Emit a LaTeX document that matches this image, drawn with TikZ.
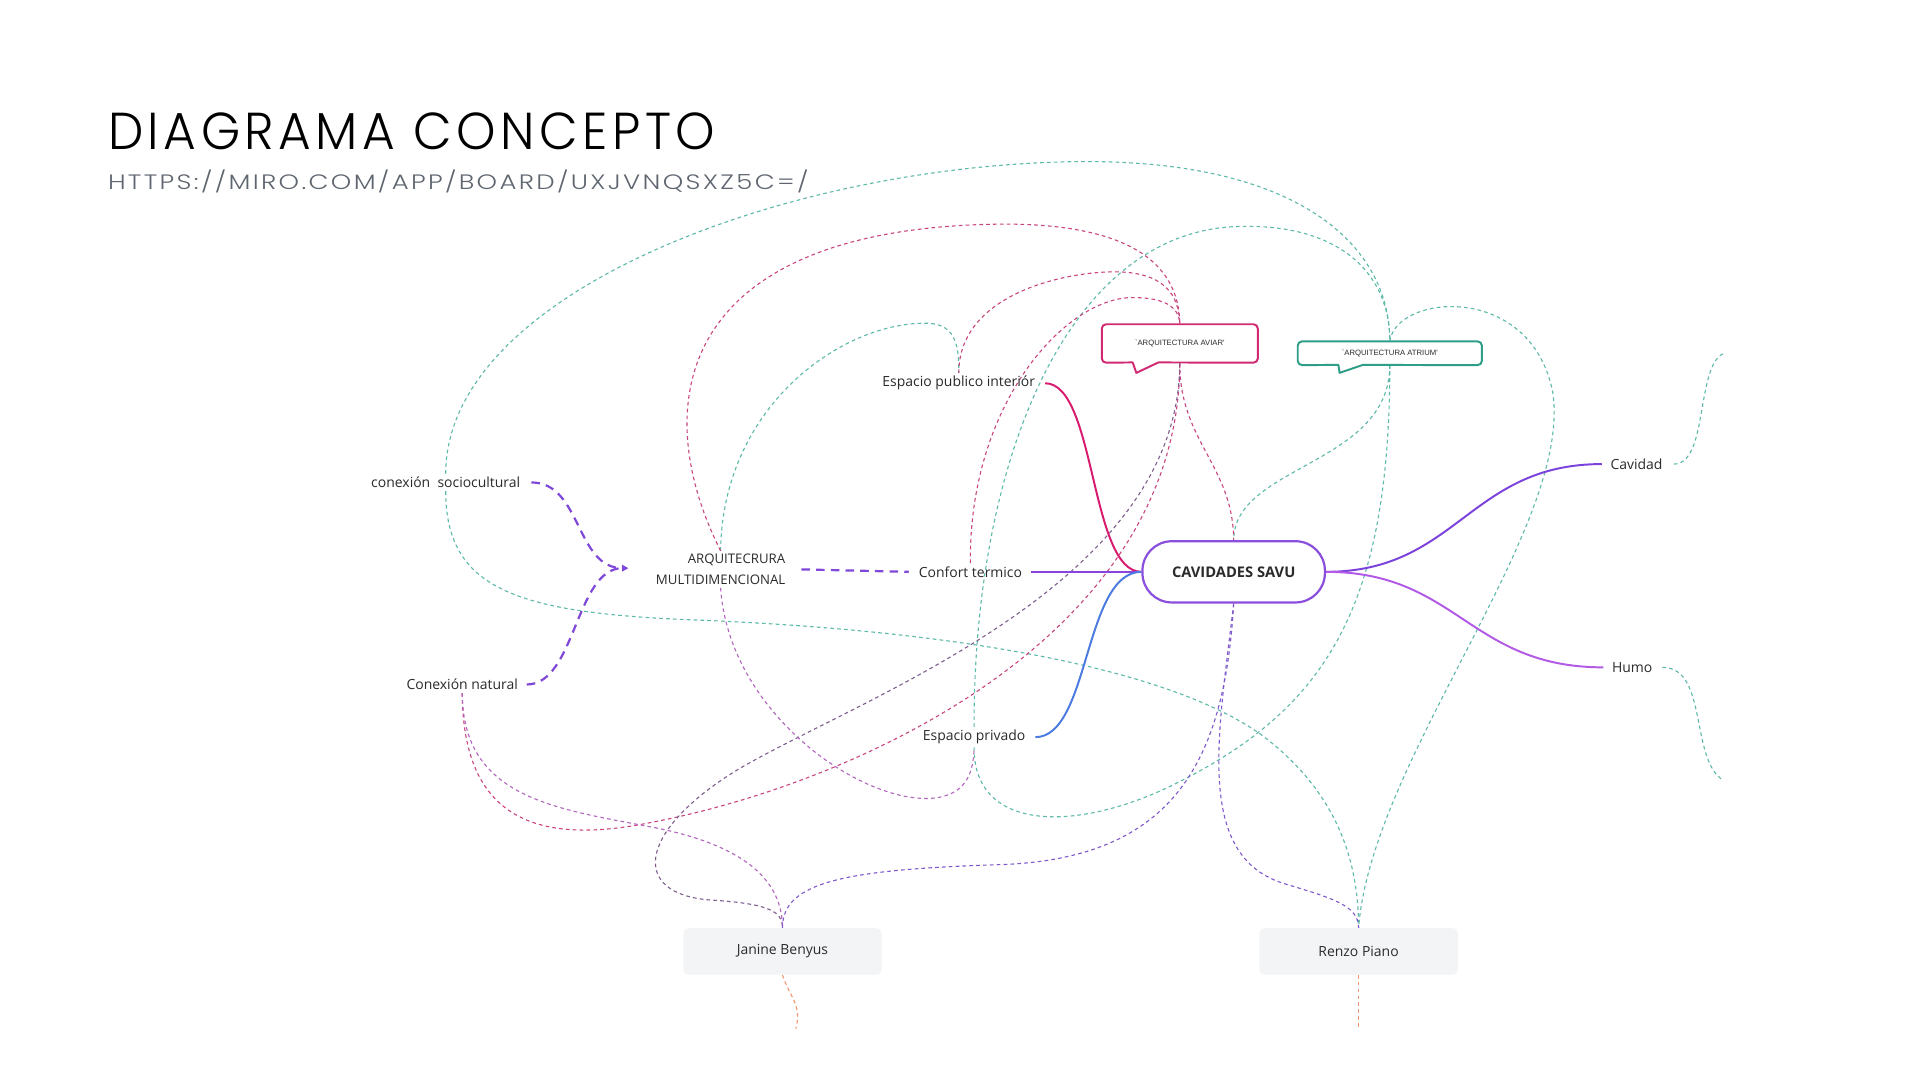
\documentclass[tikz,border=0pt]{standalone}
\usepackage{fontspec}
\setmainfont{Open Sans}
\newfontfamily\titlefont[UprightFont={* Light},LetterSpace=9]{Poppins}
\newfontfamily\urlfont[UprightFont={* Light},LetterSpace=9]{Poppins}
\newfontfamily\bubblefont{Liberation Sans}
\usetikzlibrary{arrows.meta}
\definecolor{tealc}{HTML}{5DB9A8}
\definecolor{pinkc}{HTML}{C9457F}
\definecolor{mauvec}{HTML}{7E5E8E}
\definecolor{ppinkc}{HTML}{B264BE}
\definecolor{violc}{HTML}{7E58CC}
\definecolor{orangec}{HTML}{EE9470}
\definecolor{labelc}{HTML}{2B2B2B}
\definecolor{urlc}{HTML}{5F6670}
\definecolor{boxc}{HTML}{8A4FDC}
\definecolor{avic}{HTML}{D12A73}
\definecolor{atrc}{HTML}{2E9E86}
\definecolor{greyfill}{HTML}{F3F4F6}
\definecolor{mmpink}{HTML}{D81B6E}
\definecolor{mmblue}{HTML}{4C7BE0}
\definecolor{mmviol}{HTML}{8A44DE}
\definecolor{mmcav}{HTML}{7B42DC}
\definecolor{mmhumo}{HTML}{B25AE6}
\definecolor{arqdash}{HTML}{8048D8}
\pgfdeclarelayer{back}
\pgfdeclarelayer{bg}
\pgfdeclarelayer{mid}
\pgfsetlayers{back,bg,mid,main}
\begin{document}
\begin{tikzpicture}[x=1pt,y=-1pt,
  lbl/.style={font=\fontsize{11.4}{13.7}\selectfont, text=labelc, inner xsep=0pt, inner ysep=2.5pt},
  thinline/.style={line width=0.9pt, dash pattern=on 3pt off 2.6pt},
  tline/.style={thinline, draw=tealc},
  pline/.style={thinline, draw=pinkc},
  mline/.style={thinline, draw=mauvec},
  qline/.style={thinline, draw=ppinkc},
  vline/.style={thinline, draw=violc},
  oline/.style={thinline, draw=orangec},
  thickdash/.style={draw=arqdash, line width=1.8pt, dash pattern=on 7pt off 5pt},
  mmline/.style={line width=1.6pt},
  pbox/.style={lbl, fill=greyfill, rounded corners=4pt, minimum width=162pt, minimum height=38pt, inner xsep=4pt},
  bubbletext/.style={font=\fontsize{6.3}{7}\selectfont\bubblefont, text=labelc, inner sep=0pt},
  bubble/.style={fill=white, line width=1.6pt, line join=round}
]
\useasboundingbox (0,0) rectangle (1568,882);
\begin{pgfonlayer}{back}
\fill[white] (0,0) rectangle (1568,882);
\end{pgfonlayer}

% title
\node[anchor=base west, inner sep=0pt] (title) at (88,122)
  {\resizebox{496pt}{30pt}{\titlefont DIAGRAMA CONCEPTO}};
\node[anchor=base west, inner sep=0pt, text=urlc] (url) at (88,155)
  {\resizebox{572pt}{16pt}{\urlfont HTTPS://MIRO.COM/APP/BOARD/UXJVNQSXZ5C=/}};

% nodes
\node[lbl] (epi) at (783,313) {Espacio publico interiór};
\node[lbl] (cft) at (792.5,467) {Confort termico};
\node[lbl] (esp) at (795.5,602) {Espacio privado};
\node[lbl] (socio) at (364,394) {conexión\ \ sociocultural};
\node[lbl] (nat) at (377.5,559) {Conexión natural};
\node[lbl, font=\fontsize{10.8}{17}\selectfont, align=right] (arq) at (588.5,465) {ARQUITECRURA\\MULTIDIMENCIONAL};
\node[lbl] (cavd) at (1336.5,379) {Cavidad};
\node[lbl] (humo) at (1333,545) {Humo};
\node[draw=boxc, line width=1.8pt, fill=white, rounded corners=24pt, minimum width=149pt, minimum height=50pt,
      font=\fontsize{12}{14}\selectfont\bfseries, text=labelc] (cav) at (1007.5,467) {CAVIDADES SAVU};
\node[pbox] (janine) at (639,777) {Janine Benyus};
\node[pbox] (renzo) at (1109.5,777) {Renzo Piano};
\node[bubbletext, minimum width=127pt, minimum height=31pt] (aviar) at (963.5,280.5) {`ARQUITECTURA AVIAR'};
\node[bubbletext, minimum width=150pt, minimum height=19pt] (atrium) at (1135,288.5) {`ARQUITECTURA ATRIUM'};

\coordinate (cavend) at (1407,289);
\coordinate (humoend) at (1407,637);
\coordinate (jend) at (650,840);
\coordinate (rend) at (1109.5,840);
\coordinate (arqin) at (513,464);

% speech bubbles
\begin{pgfonlayer}{mid}
\fill[white] (aviar.south west) rectangle (aviar.north east);
\fill[white] (atrium.south west) rectangle (atrium.north east);
\draw[bubble, draw=avic] (946,296) -- (928,304.5) -- (925,296) [rounded corners=3.5pt] -- (aviar.south west) -- (aviar.north west) -- (aviar.north east) -- (aviar.south east) -- (946,296);
\draw[bubble, draw=atrc] (1113,298) -- (1094,304.5) -- (1093,298) [rounded corners=3.5pt] -- (atrium.south west) -- (atrium.north west) -- (atrium.north east) -- (atrium.south east) -- (1113,298);
\end{pgfonlayer}

\begin{pgfonlayer}{bg}
% teal connectors
\draw[tline] (socio.north) .. controls (364,240) and (640,135) .. (880,132) .. controls (1060,130) and (1135,200) .. (atrium.north);
\draw[tline] (socio.south) .. controls (364,480) and (420,500) .. (560,506) .. controls (800,515) and (960,550) .. (1030,600) .. controls (1090,645) and (1109.5,700) .. (renzo.north);
\draw[tline] (esp.south) .. controls (795,680) and (880,680) .. (960,640) .. controls (1080,580) and (1135,500) .. (atrium.south);
\draw[tline] (esp.north) .. controls (795,380) and (870,190) .. (1010,185) .. controls (1090,182) and (1135,220) .. (atrium.north);
\draw[tline] (atrium.north) .. controls (1140,240) and (1250,230) .. (1268,320) .. controls (1285,430) and (1120,620) .. (renzo.north);
\draw[tline] (atrium.south) .. controls (1135,380) and (1007.5,380) .. (cav.north);
\draw[tline] (arq.north) .. controls (590,330) and (690,262) .. (758,264) .. controls (782,265) and (783,285) .. (epi.north);
\draw[tline] ([xshift=9pt]cavd.east) .. controls (1395,379) and (1385,300) .. (cavend);
\draw[tline] ([xshift=8pt]humo.east) .. controls (1395,545) and (1380,620) .. (humoend);
% pink connectors
\draw[pline] (arq.north) .. controls (528,330) and (552,185) .. (820,183) .. controls (930,183) and (963,220) .. (aviar.north);
\draw[pline] (epi.north) .. controls (783,240) and (870,222) .. (910,222) .. controls (950,222) and (963,240) .. (aviar.north);
\draw[pline] (cft.north) .. controls (791,330) and (870,243) .. (925,243) .. controls (950,243) and (963,250) .. (aviar.north);
\draw[pline] (aviar.south) .. controls (963,360) and (1007,380) .. (cav.north);
\draw[pline] (nat.south) .. controls (378,670) and (440,690) .. (530,672) .. controls (700,640) and (963,520) .. (aviar.south);
\draw[mline] (aviar.south) .. controls (963,480) and (700,570) .. (600,630) .. controls (520,680) and (515,730) .. (580,735) .. controls (630,738) and (639,745) .. (janine.north);
\draw[qline] (nat.south) .. controls (378,650) and (450,660) .. (530,675) .. controls (610,690) and (639,720) .. (janine.north);
\draw[qline] (arq.south) .. controls (595,580) and (700,655) .. (760,652) .. controls (790,650) and (795,630) .. (esp.south);
% violet connectors
\draw[vline] (cav.south) .. controls (1000,620) and (960,700) .. (820,706) .. controls (690,710) and (639,720) .. (janine.north);
\draw[vline] (cav.south) .. controls (995,600) and (975,700) .. (1050,722) .. controls (1090,734) and (1109.5,740) .. (renzo.north);
% orange
\draw[oline] (janine.south) .. controls (645,815) and (655,820) .. (jend);
\draw[oline] (renzo.south) -- (rend);
% thick purple dashed
\draw[thickdash, -{Triangle[length=5pt,width=5pt]}] ([xshift=9pt]socio.east) .. controls (475,394) and (470,464) .. (arqin);
\draw[thickdash, -{Triangle[length=5pt,width=5pt]}] ([xshift=7pt]nat.east) .. controls (470,559) and (470,464) .. (arqin);
\draw[thickdash] ([xshift=13pt]arq.east) -- ([xshift=-8pt]cft.west);
% mind map solid lines
\draw[mmline, draw=mmpink] ([xshift=8pt]epi.east) .. controls (895,313) and (890,467) .. (cav.west);
\draw[mmline, draw=mmviol] ([xshift=7pt]cft.east) -- (cav.west);
\draw[mmline, draw=mmblue] ([xshift=8pt]esp.east) .. controls (890,602) and (885,467) .. (cav.west);
\draw[mmline, draw=mmcav] (cav.east) .. controls (1190,467) and (1200,379) .. ([xshift=-7pt]cavd.west);
\draw[mmline, draw=mmhumo] (cav.east) .. controls (1190,467) and (1200,545) .. ([xshift=-7pt]humo.west);
\end{pgfonlayer}
\end{tikzpicture}
\end{document}
